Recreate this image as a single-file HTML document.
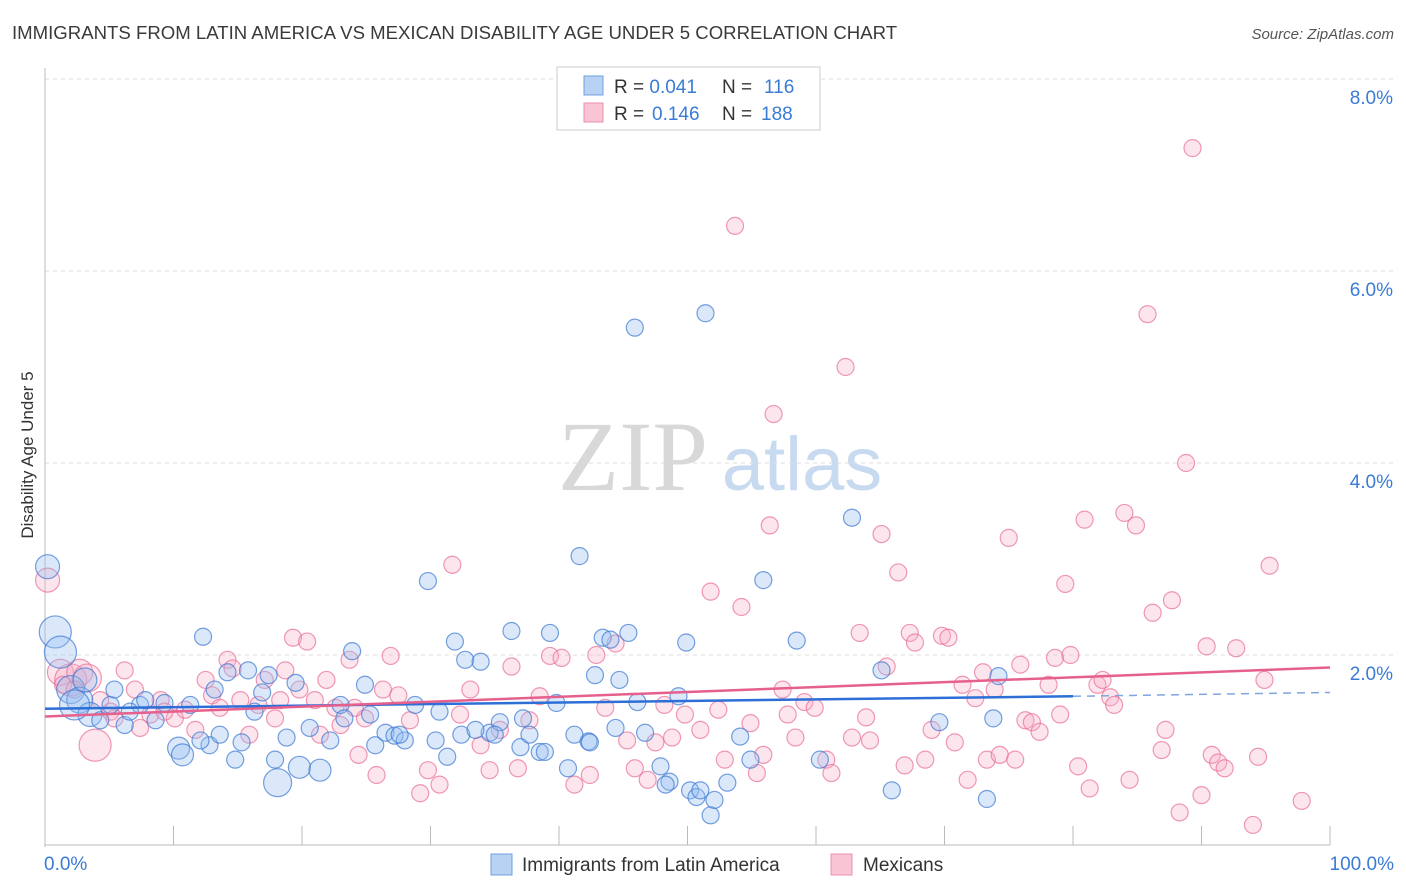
<!DOCTYPE html>
<html><head><meta charset="utf-8"><style>
body{margin:0;background:#fff;font-family:"Liberation Sans",sans-serif}
svg{display:block}
</style></head><body>
<svg id="chart" width="1406" height="892" viewBox="0 0 1406 892" xmlns="http://www.w3.org/2000/svg">
<text x="12" y="39" font-size="18.6" fill="#3a3a3a">IMMIGRANTS FROM LATIN AMERICA VS MEXICAN DISABILITY AGE UNDER 5 CORRELATION CHART</text>
<text x="1394" y="39" font-size="15" fill="#555" font-style="italic" text-anchor="end">Source: ZipAtlas.com</text>
<g>
<text x="633" y="490" font-size="100" fill="#d8d8d8" font-family="Liberation Serif,serif" text-anchor="middle">ZIP</text>
<text x="802" y="490" font-size="76" fill="#c8daf0" text-anchor="middle">atlas</text>
</g>
<g id="grid"></g>
<g id="axes"></g>
<g id="marks"></g>
<g id="trends"></g>
<text transform="translate(33,455) rotate(-90)" font-size="17" fill="#333" text-anchor="middle">Disability Age Under 5</text>
<g>
<rect x="557" y="67" width="263" height="63" fill="#fff" stroke="#ccc"/>
<rect x="584" y="76" width="19" height="19" fill="#b8d2f4" stroke="#6f9fe0"/>
<rect x="584" y="103" width="19" height="19" fill="#f9c4d4" stroke="#ec8fae"/>
<text x="614" y="93" font-size="19" fill="#333">R = <tspan fill="#3a7bd5">0.041</tspan><tspan x="722">N = </tspan><tspan fill="#3a7bd5" x="764">116</tspan></text>
<text x="614" y="120" font-size="19" fill="#333">R = <tspan fill="#3a7bd5" x="652">0.146</tspan><tspan x="722">N = </tspan><tspan fill="#3a7bd5" x="761">188</tspan></text>
</g>
<g>
<rect x="491" y="854" width="21" height="21" fill="#b8d2f4" stroke="#6f9fe0"/>
<text x="522" y="871" font-size="19" fill="#333">Immigrants from Latin America</text>
<rect x="831" y="854" width="21" height="21" fill="#f9c4d4" stroke="#ec8fae"/>
<text x="863" y="871" font-size="19" fill="#333">Mexicans</text>
</g>
</svg>
<script>
const yTicks=[2,4,6,8];
const yTickLabels=["2.0%","4.0%","6.0%","8.0%"];
const xTickCount=10;
const xLabels=["0.0%","100.0%"];
const blueTrend=[[0,1.44],[80,1.57],[100,1.61]];
const pinkTrend=[[0,1.36],[100,1.87]];
const blueX=[0.2,0.8,1.2,2.0,2.7,3.5,4.3,5.1,6.2,7.4,8.6,10.4,10.7,12.3,12.8,13.6,14.2,14.8,15.3,15.8,16.9,17.4,17.9,18.1,18.8,19.5,19.8,20.6,21.4,22.2,23.0,23.9,24.9,25.7,26.5,27.2,28.0,28.8,29.8,30.4,30.7,31.3,31.9,32.7,33.9,34.6,35.4,36.3,37.0,37.7,38.5,39.3,39.8,40.7,41.6,42.3,42.8,43.4,44.0,44.7,45.4,45.9,46.1,46.7,47.9,48.6,49.3,49.9,50.2,50.7,51.4,51.8,52.1,53.1,54.1,54.9,55.9,58.5,60.3,62.8,65.1,65.9,69.6,73.3,73.8,74.2,2.3,3.1,5.4,6.6,7.8,9.3,11.3,12.1,13.2,16.3,23.3,25.3,27.6,32.4,33.5,35.0,37.2,38.9,41.2,42.4,44.4,48.3,51.0];
const blueY=[2.92,2.24,2.03,1.64,1.53,1.38,1.32,1.48,1.27,1.48,1.32,1.03,0.96,2.19,1.06,1.17,1.82,0.91,1.09,1.84,1.61,1.79,0.91,0.67,1.14,1.71,0.83,1.24,0.80,1.11,1.48,2.04,1.69,1.06,1.19,1.16,1.11,1.48,2.77,1.11,1.41,0.94,2.14,1.95,1.93,1.19,1.30,2.25,1.04,1.17,0.99,2.23,1.50,0.82,3.03,1.10,1.79,2.18,2.16,1.74,2.23,5.41,1.51,1.19,0.84,0.68,1.57,2.13,0.59,0.52,5.56,0.33,0.49,0.67,1.15,0.91,2.78,2.15,0.91,3.43,1.84,0.59,1.30,0.50,1.34,1.78,1.48,1.74,1.64,1.41,1.53,1.50,1.48,1.11,1.64,1.41,1.34,1.38,1.17,1.17,1.22,1.17,1.34,0.99,1.17,1.09,1.24,0.65,0.59];
const blueR={0:12,1:16,2:16,3:14,4:13,5:12,11:11,12:11,23:14,26:11,28:11,86:15,87:12};
const pinkX=[0.2,1.2,2.0,2.7,3.3,3.9,5.1,6.2,7.0,8.2,9.0,10.1,11.7,13.0,14.2,15.2,15.9,17.1,17.9,18.7,19.3,19.8,20.4,21.4,21.9,23.0,23.7,24.4,24.9,25.8,26.3,26.9,27.5,28.4,29.2,29.8,30.7,31.7,32.3,33.1,33.9,34.6,35.4,36.3,36.8,37.7,38.5,39.3,40.2,41.2,42.4,42.9,43.6,44.4,45.3,45.9,46.9,47.5,48.2,48.8,49.8,51.0,51.8,52.4,52.9,53.7,54.2,54.9,55.4,55.9,56.4,56.7,57.4,57.8,58.4,59.1,59.9,60.8,61.2,62.3,62.8,63.4,63.9,64.2,65.1,65.5,66.4,66.9,67.3,67.7,68.5,69.0,69.8,70.3,70.8,71.4,71.8,72.4,73.0,73.3,73.9,74.3,75.0,75.5,75.9,76.3,76.8,77.4,78.1,78.6,79.0,79.4,79.8,80.4,80.9,81.3,81.9,82.3,82.9,83.2,84.0,84.4,84.9,85.8,86.2,86.9,87.2,87.7,88.3,88.8,89.3,90.0,90.4,90.8,91.3,91.8,92.7,94.0,94.4,94.9,95.3,97.8,1.4,2.3,4.3,5.4,7.4,9.3,10.9,12.5,13.6,14.6,16.6,18.3,21.0,22.6,24.1];
const pinkY=[2.78,1.82,1.74,1.82,1.76,1.06,1.41,1.84,1.64,1.38,1.53,1.34,1.22,1.58,1.95,1.53,1.17,1.74,1.34,1.84,2.18,1.64,2.14,1.17,1.74,1.27,1.95,0.96,1.34,0.75,1.64,1.99,1.58,1.32,0.56,0.80,0.65,2.94,1.38,1.64,1.06,0.80,1.22,1.88,0.82,1.32,1.57,1.99,1.97,0.65,0.75,2.00,1.45,2.12,1.11,0.82,0.70,1.09,1.48,1.14,1.38,1.22,2.66,1.43,0.91,6.47,2.50,1.29,0.77,0.96,3.35,4.51,1.64,1.38,1.14,1.51,1.45,0.91,0.77,5.00,1.14,2.23,1.35,1.11,3.26,1.88,2.86,0.85,2.23,2.13,0.91,1.22,2.20,2.18,1.09,1.69,0.70,1.55,1.82,0.91,1.64,0.96,3.22,0.91,1.90,1.32,1.30,1.20,1.69,1.97,1.38,2.74,2.00,0.84,3.41,0.61,1.69,1.74,1.56,1.48,3.48,0.70,3.35,5.55,2.44,1.01,1.22,2.57,0.36,4.00,7.28,0.54,2.09,0.96,0.88,0.82,2.07,0.23,0.94,1.74,2.93,0.48,1.69,1.64,1.53,1.34,1.24,1.41,1.43,1.74,1.45,1.86,1.48,1.53,1.53,1.45,1.45];
const pinkR={0:12,1:13,2:16,3:13,4:14,5:16};

const NS="http://www.w3.org/2000/svg";
const X0=45,X1=1330,Y0=847,PX=96;
const sx=v=>X0+(X1-X0)*v/100;
const sy=v=>Y0-v*PX;
function mk(tag,attrs,parent){const e=document.createElementNS(NS,tag);for(const k in attrs)e.setAttribute(k,attrs[k]);parent.appendChild(e);return e;}
const grid=document.getElementById('grid'),axes=document.getElementById('axes'),marks=document.getElementById('marks'),trends=document.getElementById('trends');
yTicks.forEach((t,i)=>{
  const l=mk('line',{x1:X0,x2:1394,y1:sy(t),y2:sy(t),stroke:'#ddd','stroke-dasharray':'4,4'},grid);
  
  
  const tx=mk('text',{x:1393,y:sy(t)+25,'font-size':19,fill:'#3a7bd5','text-anchor':'end'},axes);
  tx.textContent=yTickLabels[i];
  
  
});
const ya=mk('line',{x1:X0,x2:X0,y1:68,y2:847,stroke:'#bbb'},axes);


const xa=mk('line',{x1:X0,x2:X1,y1:845,y2:845,stroke:'#bbb'},axes);


for(let i=1;i<=xTickCount;i++){
  const t=mk('line',{x1:sx(i*10),x2:sx(i*10),y1:826,y2:845,stroke:'#bbb'},axes);
  
  
}
const xl0=mk('text',{x:44,y:870,'font-size':19,fill:'#3a7bd5'},axes);xl0.textContent=xLabels[0];


const xl1=mk('text',{x:1394,y:870,'font-size':19,fill:'#3a7bd5','text-anchor':'end'},axes);xl1.textContent=xLabels[1];


function dots(xs,ys,rs,fill,stroke,name){
  xs.forEach((x,i)=>{
    const c=mk('circle',{cx:sx(x),cy:sy(ys[i]),r:rs[i]||8.5,fill:fill,stroke:stroke,'stroke-width':1.2},marks);
    
    
  });
}
dots(pinkX,pinkY,pinkR,'rgba(248,170,195,0.3)','rgba(232,110,150,0.7)','mexicans-point');
dots(blueX,blueY,blueR,'rgba(150,190,240,0.35)','rgba(60,120,210,0.7)','latin-america-point');
const b1=mk('line',{x1:sx(blueTrend[0][0]),y1:sy(blueTrend[0][1]),x2:sx(blueTrend[1][0]),y2:sy(blueTrend[1][1]),stroke:'#2d6fd6','stroke-width':2.5},trends);


const b2=mk('line',{x1:sx(blueTrend[1][0]),y1:sy(blueTrend[1][1]),x2:sx(blueTrend[2][0]),y2:sy(blueTrend[2][1]),stroke:'#7fa6df','stroke-width':1.5,'stroke-dasharray':'8,6'},trends);


const p1=mk('line',{x1:sx(pinkTrend[0][0]),y1:sy(pinkTrend[0][1]),x2:sx(pinkTrend[1][0]),y2:sy(pinkTrend[1][1]),stroke:'#e5608d','stroke-width':2.5},trends);


</script>
</body></html>
